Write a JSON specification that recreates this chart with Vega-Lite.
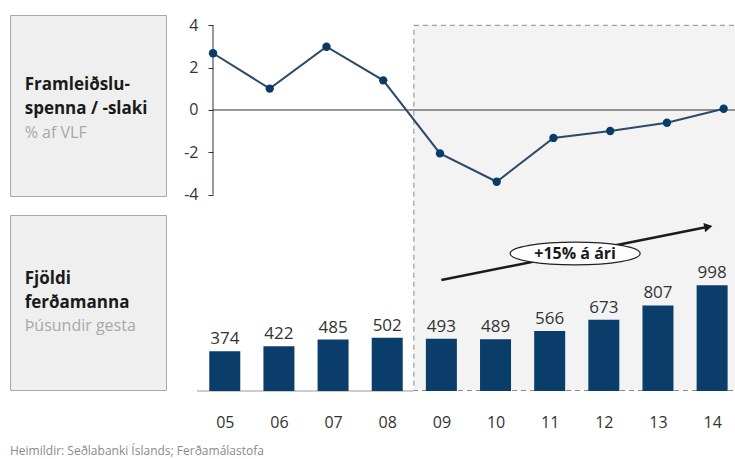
{
  "$schema": "https://vega.github.io/schema/vega-lite/v6.json",
  "padding": {"left": 9, "top": 14, "right": 0, "bottom": 0},
  "background": "white",
  "config": {"view": {"stroke": null}, "font": "Open Sans"},
  "datasets": {
    "d": [
      {"yr": 2005, "gap": 2.68, "n": 374},
      {"yr": 2006, "gap": 1.01, "n": 422},
      {"yr": 2007, "gap": 2.99, "n": 485},
      {"yr": 2008, "gap": 1.40, "n": 502},
      {"yr": 2009, "gap": -2.05, "n": 493},
      {"yr": 2010, "gap": -3.39, "n": 489},
      {"yr": 2011, "gap": -1.32, "n": 566},
      {"yr": 2012, "gap": -0.99, "n": 673},
      {"yr": 2013, "gap": -0.60, "n": 807},
      {"yr": 2014, "gap": 0.06, "n": 998}
    ]
  },
  "title": {"text": "Heimildir: Seðlabanki Íslands; Ferðamálastofa", "orient": "bottom", "anchor": "start", "frame": "group", "fontSize": 12, "fontWeight": "normal", "color": "#8a8a8a", "font": "Open Sans", "offset": 16},
  "spacing": 16,
  "hconcat": [
    {
      "bounds": "flush",
      "spacing": 19,
      "vconcat": [
        {
          "width": 156, "height": 181,
          "view": {"fill": "#efefef", "stroke": "#a9a9a9"},
          "data": {"values": [
            {"t": "Framleiðslu-", "r": 0, "k": "b"},
            {"t": "spenna / -slaki", "r": 1, "k": "b"},
            {"t": "% af VLF", "r": 2, "k": "g"}
          ]},
          "layer": [
            {"transform": [{"filter": "datum.k == 'b'"}],
             "mark": {"type": "text", "align": "left", "baseline": "alphabetic", "fontSize": 17, "fontWeight": "bold", "color": "#1a1a1a"},
             "encoding": {
               "x": {"datum": 0, "type": "quantitative", "scale": {"domain": [-14.7, 141.3]}, "axis": null},
               "y": {"field": "r", "type": "quantitative", "scale": {"domain": [-3.157, 4.432], "reverse": true}, "axis": null},
               "text": {"field": "t"}}},
            {"transform": [{"filter": "datum.k == 'g'"}],
             "mark": {"type": "text", "align": "left", "baseline": "alphabetic", "fontSize": 16, "color": "#a8a8a8"},
             "encoding": {
               "x": {"datum": 0, "type": "quantitative", "scale": {"domain": [-14.7, 141.3]}, "axis": null},
               "y": {"field": "r", "type": "quantitative", "scale": {"domain": [-3.157, 4.432], "reverse": true}, "axis": null},
               "text": {"field": "t"}}}
          ]
        },
        {
          "width": 156, "height": 175,
          "view": {"fill": "#efefef", "stroke": "#a9a9a9"},
          "data": {"values": [
            {"t": "Fjöldi", "r": 0, "k": "b"},
            {"t": "ferðamanna", "r": 1, "k": "b"},
            {"t": "Þúsundir gesta", "r": 2, "k": "g"}
          ]},
          "layer": [
            {"transform": [{"filter": "datum.k == 'b'"}],
             "mark": {"type": "text", "align": "left", "baseline": "alphabetic", "fontSize": 17, "fontWeight": "bold", "color": "#1a1a1a"},
             "encoding": {
               "x": {"datum": 0, "type": "quantitative", "scale": {"domain": [-14.7, 141.3]}, "axis": null},
               "y": {"field": "r", "type": "quantitative", "scale": {"domain": [-2.962, 4.517], "reverse": true}, "axis": null},
               "text": {"field": "t"}}},
            {"transform": [{"filter": "datum.k == 'g'"}],
             "mark": {"type": "text", "align": "left", "baseline": "alphabetic", "fontSize": 16, "color": "#a8a8a8"},
             "encoding": {
               "x": {"datum": 0, "type": "quantitative", "scale": {"domain": [-14.7, 141.3]}, "axis": null},
               "y": {"field": "r", "type": "quantitative", "scale": {"domain": [-2.962, 4.517], "reverse": true}, "axis": null},
               "text": {"field": "t"}}}
          ]
        }
      ]
    },
    {
      "width": 545, "height": 376,
      "resolve": {"scale": {"x": "independent", "y": "independent"}},
      "layer": [
        {
          "data": {"name": "d"},
          "layer": [
            {"data": {"values": [{}]},
             "mark": {"type": "rect", "fill": "#f3f3f3", "stroke": "#8a8a8a", "strokeWidth": 1, "strokeDash": [5, 4], "clip": true},
             "encoding": {
               "x": {"datum": 2008.54, "type": "quantitative", "scale": {"domain": [2004.63, 2014.235]}, "axis": null},
               "x2": {"datum": 2014.4},
               "y": {"datum": 4, "type": "quantitative", "scale": {"domain": [-13.273, 4.487]}, "axis": {"orient": "left", "values": [-4, -2, 0, 2, 4], "labelExpr": "toString(datum.value)", "domain": false, "grid": false, "ticks": true, "tickSize": 5, "tickColor": "#333333", "labelPadding": 10, "labelFontSize": 16, "labelColor": "#333333", "offset": -21, "title": null}},
               "y2": {"datum": -13.25}}},
            {"data": {"values": [{}]},
             "mark": {"type": "rule", "color": "#333333", "strokeWidth": 1, "clip": true},
             "encoding": {
               "x": {"datum": 2005, "type": "quantitative", "scale": {"domain": [2004.63, 2014.235]}},
               "x2": {"datum": 2014.235},
               "y": {"datum": 0, "type": "quantitative", "scale": {"domain": [-13.273, 4.487]}}}},
            {"data": {"values": [{}]},
             "mark": {"type": "rule", "color": "#333333", "strokeWidth": 1},
             "encoding": {
               "x": {"datum": 2005, "type": "quantitative", "scale": {"domain": [2004.63, 2014.235]}},
               "y": {"datum": -4, "type": "quantitative", "scale": {"domain": [-13.273, 4.487]}},
               "y2": {"datum": 4}}},
            {"mark": {"type": "line", "color": "#2a4a68", "strokeWidth": 2},
             "encoding": {
               "x": {"field": "yr", "type": "quantitative", "scale": {"domain": [2004.63, 2014.235]}},
               "y": {"field": "gap", "type": "quantitative", "scale": {"domain": [-13.273, 4.487]}}}},
            {"mark": {"type": "point", "filled": true, "color": "#0c3a66", "size": 70, "opacity": 1},
             "encoding": {
               "x": {"field": "yr", "type": "quantitative", "scale": {"domain": [2004.63, 2014.235]}},
               "y": {"field": "gap", "type": "quantitative", "scale": {"domain": [-13.273, 4.487]}}}}
          ]
        },
        {
          "data": {"name": "d"},
          "layer": [
            {"data": {"values": [{}]},
             "mark": {"type": "rule", "color": "#9a9a9a", "strokeWidth": 1},
             "encoding": {
               "x": {"datum": 2004.487, "type": "quantitative", "scale": {"domain": [2004.487, 2014.367]}, "axis": {"orient": "bottom", "values": [2005, 2006, 2007, 2008, 2009, 2010, 2011, 2012, 2013, 2014], "labelExpr": "substring(toString(datum.value), 2)", "domain": false, "ticks": false, "grid": false, "labelFlush": false, "labelPadding": 23, "labelFontSize": 16, "labelColor": "#333333", "title": null}},
               "x2": {"datum": 2008.486},
               "y": {"datum": 0, "type": "quantitative", "scale": {"domain": [0, 3547]}, "axis": null}}},
            {"mark": {"type": "bar", "color": "#0b3d6b", "size": 31},
             "encoding": {
               "x": {"field": "yr", "type": "quantitative", "scale": {"domain": [2004.487, 2014.367]}},
               "y": {"field": "n", "type": "quantitative", "scale": {"domain": [0, 3547]}}}},
            {"mark": {"type": "text", "baseline": "alphabetic", "dy": -7, "fontSize": 17, "color": "#333333"},
             "encoding": {
               "x": {"field": "yr", "type": "quantitative", "scale": {"domain": [2004.487, 2014.367]}},
               "y": {"field": "n", "type": "quantitative", "scale": {"domain": [0, 3547]}},
               "text": {"field": "n"}}},
            {"data": {"values": [{}]},
             "mark": {"type": "rule", "color": "#1a1a1a", "strokeWidth": 2.5},
             "encoding": {
               "x": {"datum": 2009.0, "type": "quantitative", "scale": {"domain": [2004.487, 2014.367]}},
               "x2": {"datum": 2013.93},
               "y": {"datum": 1047, "type": "quantitative", "scale": {"domain": [0, 3547]}},
               "y2": {"datum": 1549}}},
            {"data": {"values": [{}]},
             "mark": {"type": "point", "shape": "triangle-right", "filled": true, "color": "#1a1a1a", "size": 90, "angle": -11, "opacity": 1},
             "encoding": {
               "x": {"datum": 2013.93, "type": "quantitative", "scale": {"domain": [2004.487, 2014.367]}},
               "y": {"datum": 1549, "type": "quantitative", "scale": {"domain": [0, 3547]}}}},
            {"data": {"values": [{}]},
             "mark": {"type": "point", "shape": "M -1 0 C -1 -0.097 -0.552 -0.175 0 -0.175 C 0.552 -0.175 1 -0.097 1 0 C 1 0.097 0.552 0.175 0 0.175 C -0.552 0.175 -1 0.097 -1 0 Z", "filled": true, "fill": "white", "stroke": "#222222", "strokeWidth": 1.2, "size": 16900, "opacity": 1},
             "encoding": {
               "x": {"datum": 2011.47, "type": "quantitative", "scale": {"domain": [2004.487, 2014.367]}},
               "y": {"datum": 1297, "type": "quantitative", "scale": {"domain": [0, 3547]}}}},
            {"data": {"values": [{}]},
             "mark": {"type": "text", "text": "+15% á ári", "fontSize": 16, "fontWeight": "bold", "color": "#1a1a1a", "baseline": "middle", "align": "center"},
             "encoding": {
               "x": {"datum": 2011.47, "type": "quantitative", "scale": {"domain": [2004.487, 2014.367]}},
               "y": {"datum": 1297, "type": "quantitative", "scale": {"domain": [0, 3547]}}}}
          ]
        }
      ]
    }
  ]
}
